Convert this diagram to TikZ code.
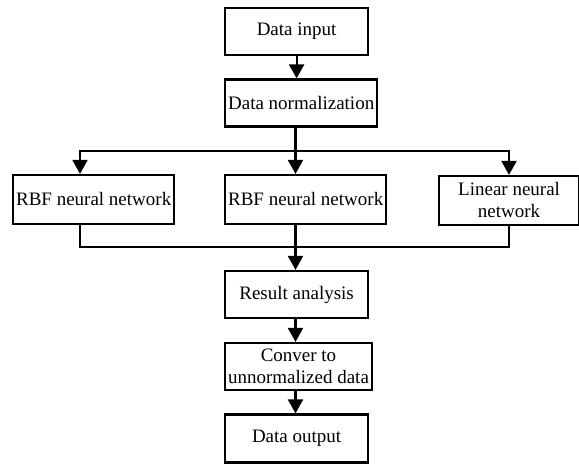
\documentclass[tikz,border=0pt]{standalone}
\usepackage{fontspec}
\setmainfont{Liberation Serif}
\usetikzlibrary{arrows.meta}

\begin{document}
\begin{tikzpicture}[x=0.5pt, y=-0.5pt,
		box/.style={draw, line width=1.1pt, anchor=west, align=center, inner xsep=1.5pt, inner ysep=0pt, minimum width=71.5pt, minimum height=23.5pt, font=\fontsize{9.5}{11}\selectfont},
		arr/.style={line width=1.1pt, -{Triangle[width=7.5pt, length=7pt]}},
		wire/.style={line width=1.1pt}]
			%%%%% START %%%%%
			
			\useasboundingbox (0, 0) rectangle (579, 464);
			
			\node[box] (input) at (224, 31.5) {Data input};
			\node[box] (norm) at (224, 103) {Data normalization};
			
			\node[box, minimum width=80pt, minimum height=24.5pt] (rbfa) at (12, 199.5) {RBF neural network};
			\node[box, minimum width=80pt, minimum height=24.5pt] (rbfb) at (224, 199.5) {RBF neural network};
			\node[box, minimum width=70pt, minimum height=24.5pt] (lnn) at (438, 200.5) {Linear neural\\network};
			
			\node[box] (result) at (224, 294.5) {Result analysis};
			\node[box] (conv) at (224, 366.5) {Conver to\\unnormalized data};
			\node[box, minimum height=24pt] (output) at (224, 438.5) {Data output};
			
			\coordinate (splitl) at (80, 151);
			\coordinate (splitm) at (295.5, 151);
			\coordinate (splitr) at (509, 151);
			\coordinate (joinl) at (80, 247);
			\coordinate (joinm) at (295.5, 247);
			\coordinate (joinr) at (509, 247);
			
			\draw[arr] (input.south) -- (input.south |- norm.north);
			\draw[wire] (splitm |- norm.south) -- (splitm);
			\draw[arr] (splitm) -| (splitl |- rbfa.north);
			\draw[arr] (splitm) -| (splitr |- lnn.north);
			\draw[arr] (splitm) -- (splitm |- rbfb.north);
			
			\draw[wire] (joinl |- rbfa.south) -- (joinl) -- (joinr) -- (joinr |- lnn.south);
			\draw[wire] (joinm |- rbfb.south) -- (joinm);
			\draw[arr] (joinm) -- (joinm |- result.north);
			\draw[arr] (joinm |- result.south) -- (joinm |- conv.north);
			\draw[arr] (joinm |- conv.south) -- (joinm |- output.north);
			
			%%%%% END %%%%%
		\end{tikzpicture}
\end{document}
